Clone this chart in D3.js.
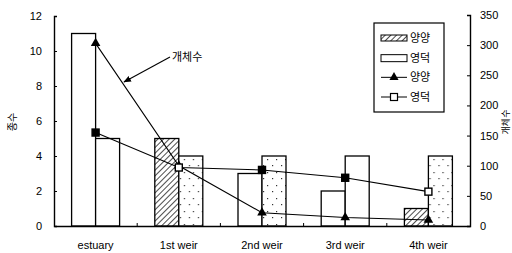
<!DOCTYPE html>
<html>
<head>
<meta charset="utf-8">
<script src="https://cdn.jsdelivr.net/npm/d3@7"></script>
<style>
  body { margin: 0; background: #fff; }
  svg text { font-family: "Liberation Sans", Arial, sans-serif; }
  .kr { font-family: "Noto Sans CJK KR", sans-serif; }
</style>
</head>
<body>
<svg id="chart" width="512" height="253"></svg>
<script>
// data
var sites = ["estuary", "1st weir", "2nd weir", "3rd weir", "4th weir"];
var speciesYangyang = [11, 5, 3, 2, 1];
var speciesYeongdeok = [5, 4, 4, 4, 4];
var countYangyang = [303, 100, 22, 14, 10];
var countYeongdeok = [155, 97, 93, 80, 57];
var leftTicks = [0, 2, 4, 6, 8, 10, 12];
var rightTicks = [0, 50, 100, 150, 200, 250, 300, 350];

// fills as they appear in the scan
var fillYangyang = ["plain", "hatch", "plain", "plain", "hatch"];
var fillYeongdeok = ["plain", "dots", "dots", "plain", "dots"];

var svg = d3.select("#chart"),
    plotLeft = 54, plotRight = 470, plotTop = 16, plotBottom = 226;

var defs = svg.append("defs");
var hatch = defs.append("pattern")
    .attr("id", "hatch")
    .attr("patternUnits", "userSpaceOnUse")
    .attr("width", 4).attr("height", 4)
    .attr("patternTransform", "rotate(45)");
hatch.append("rect").attr("width", 4).attr("height", 4).attr("fill", "#fff");
hatch.append("line").attr("x1", 0).attr("y1", 0).attr("x2", 0).attr("y2", 4)
    .attr("stroke", "#000").attr("stroke-width", 1.4);

var dots = defs.append("pattern")
    .attr("id", "dots")
    .attr("patternUnits", "userSpaceOnUse")
    .attr("width", 9).attr("height", 13);
dots.append("rect").attr("width", 9).attr("height", 13).attr("fill", "#fff");
dots.append("rect").attr("x", 2).attr("y", 3).attr("width", 1.2).attr("height", 1.2).attr("fill", "#333");
dots.append("rect").attr("x", 7).attr("y", 9).attr("width", 1.2).attr("height", 1.2).attr("fill", "#333");

function fillOf(s) {
    if (s == "hatch") return "url(#hatch)";
    if (s == "dots") return "url(#dots)";
    return "#fff";
}

var x = d3.scaleBand().domain(sites).range([plotLeft, plotRight]);
var xSub = d3.scaleBand().domain([0, 1]).range([0, 48]);
var yL = d3.scaleLinear().domain([0, 12]).range([plotBottom, plotTop]);
var yR = d3.scaleLinear().domain([0, 350]).range([plotBottom, plotTop - 1]);

// bars
var groups = svg.append("g").selectAll("g")
    .data(sites)
    .enter().append("g")
    .attr("transform", function(d) { return "translate(" + (x(d) + x.bandwidth() / 2 - 24) + ",0)"; });

groups.append("rect")
    .attr("x", xSub(0))
    .attr("width", xSub.bandwidth())
    .attr("y", function(d, i) { return yL(speciesYangyang[i]); })
    .attr("height", function(d, i) { return plotBottom - yL(speciesYangyang[i]); })
    .attr("fill", function(d, i) { return fillOf(fillYangyang[i]); })
    .attr("stroke", "#000").attr("stroke-width", 1.3);

groups.append("rect")
    .attr("x", xSub(1))
    .attr("width", xSub.bandwidth())
    .attr("y", function(d, i) { return yL(speciesYeongdeok[i]); })
    .attr("height", function(d, i) { return plotBottom - yL(speciesYeongdeok[i]); })
    .attr("fill", function(d, i) { return fillOf(fillYeongdeok[i]); })
    .attr("stroke", "#000").attr("stroke-width", 1.3);

// axes
var axL = svg.append("g")
    .attr("transform", "translate(" + plotLeft + ",0)")
    .call(d3.axisRight(yL).tickValues(leftTicks).tickSize(3).tickFormat(d3.format("d")));
axL.selectAll("text").attr("x", -12).attr("text-anchor", "end");

var axR = svg.append("g")
    .attr("transform", "translate(" + plotRight + ",0)")
    .call(d3.axisLeft(yR).tickValues(rightTicks).tickSize(3));
axR.selectAll("text").attr("x", 10).attr("text-anchor", "start");

var axB = svg.append("g")
    .attr("transform", "translate(0," + plotBottom + ")")
    .call(d3.axisTop(x).tickSize(0).tickFormat(""));

// small inner ticks between categories
svg.append("g").selectAll("line")
    .data(sites.slice(1))
    .enter().append("line")
    .attr("x1", function(d) { return x(d); })
    .attr("x2", function(d) { return x(d); })
    .attr("y1", plotBottom).attr("y2", plotBottom - 3)
    .attr("stroke", "#000");

svg.append("g").selectAll("text")
    .data(sites)
    .enter().append("text")
    .attr("x", function(d) { return x(d) + x.bandwidth() / 2; })
    .attr("y", 249)
    .attr("text-anchor", "middle")
    .attr("font-size", 11)
    .text(function(d) { return d; });

[axL, axR, axB].forEach(function(a) {
    a.select(".domain").attr("stroke", "#000").attr("stroke-width", 1.4);
    a.selectAll(".tick line").attr("stroke", "#000");
    a.selectAll("text").attr("font-size", 11).attr("fill", "#000")
        .attr("font-family", "Liberation Sans, Arial, sans-serif");
});

// lines
var center = function(i) { return x(sites[i]) + x.bandwidth() / 2; };
var line = d3.line()
    .x(function(d, i) { return center(i); })
    .y(function(d) { return yR(d); });

svg.append("path").datum(countYeongdeok)
    .attr("d", line).attr("fill", "none")
    .attr("stroke", "#000").attr("stroke-width", 1.1);
svg.append("path").datum(countYangyang)
    .attr("d", line).attr("fill", "none")
    .attr("stroke", "#000").attr("stroke-width", 1.1);

svg.append("g").selectAll("path")
    .data(countYangyang)
    .enter().append("path")
    .attr("d", d3.symbol().type(d3.symbolTriangle).size(40))
    .attr("transform", function(d, i) { return "translate(" + center(i) + "," + yR(d) + ")"; })
    .attr("fill", "#000");

svg.append("g").selectAll("rect")
    .data(countYeongdeok)
    .enter().append("rect")
    .attr("x", function(d, i) { return center(i) - 3.5; })
    .attr("y", function(d) { return yR(d) - 3.5; })
    .attr("width", 7).attr("height", 7)
    .attr("fill", function(d, i) { return i == 1 || i == 4 ? "#fff" : "#000"; })
    .attr("stroke", "#000").attr("stroke-width", 1.4);

// annotation
defs.append("marker")
    .attr("id", "arrow")
    .attr("viewBox", "0 0 10 10")
    .attr("refX", 9).attr("refY", 5)
    .attr("markerWidth", 7).attr("markerHeight", 7)
    .attr("orient", "auto")
    .append("path").attr("d", "M0,1 L10,5 L0,9 z").attr("fill", "#000");

svg.append("line")
    .attr("x1", 170).attr("y1", 57).attr("x2", 124).attr("y2", 82)
    .attr("stroke", "#000").attr("stroke-width", 1.1)
    .attr("marker-end", "url(#arrow)");
svg.append("text").attr("class", "kr")
    .attr("x", 172).attr("y", 61)
    .attr("font-size", 11)
    .text("개체수");

// axis titles
svg.append("text").attr("class", "kr")
    .attr("transform", "translate(16,122) rotate(-90)")
    .attr("text-anchor", "middle")
    .attr("font-size", 10)
    .text("종수");
svg.append("text").attr("class", "kr")
    .attr("transform", "translate(509,122) rotate(-90)")
    .attr("text-anchor", "middle")
    .attr("font-size", 9)
    .text("개체수");

// legend
var legend = svg.append("g").attr("transform", "translate(374,23)");
legend.append("rect")
    .attr("width", 70).attr("height", 89)
    .attr("fill", "#fff").attr("stroke", "#000").attr("stroke-width", 1.2);

var legendNames = ["양양", "영덕", "양양", "영덕"];
var rowY = d3.scalePoint().domain(d3.range(4)).range([15, 74]);

legend.append("rect").attr("x", 7).attr("y", rowY(0) - 3).attr("width", 26).attr("height", 6)
    .attr("fill", "url(#hatch)").attr("stroke", "#000");
legend.append("rect").attr("x", 7).attr("y", rowY(1) - 3).attr("width", 26).attr("height", 7)
    .attr("fill", "#fff").attr("stroke", "#000");
legend.append("line").attr("x1", 7).attr("x2", 33).attr("y1", rowY(2)).attr("y2", rowY(2))
    .attr("stroke", "#000");
legend.append("path").attr("d", d3.symbol().type(d3.symbolTriangle).size(36))
    .attr("transform", "translate(20," + rowY(2) + ")").attr("fill", "#000");
legend.append("line").attr("x1", 7).attr("x2", 33).attr("y1", rowY(3)).attr("y2", rowY(3))
    .attr("stroke", "#000");
legend.append("rect").attr("x", 16.5).attr("y", rowY(3) - 3.5).attr("width", 7).attr("height", 7)
    .attr("fill", "#fff").attr("stroke", "#000").attr("stroke-width", 1.2);

legend.selectAll("text.name")
    .data(legendNames)
    .enter().append("text")
    .attr("class", "kr name")
    .attr("x", 36)
    .attr("y", function(d, i) { return rowY(i) + 4; })
    .attr("font-size", 11)
    .text(function(d) { return d; });
</script>
</body>
</html>
